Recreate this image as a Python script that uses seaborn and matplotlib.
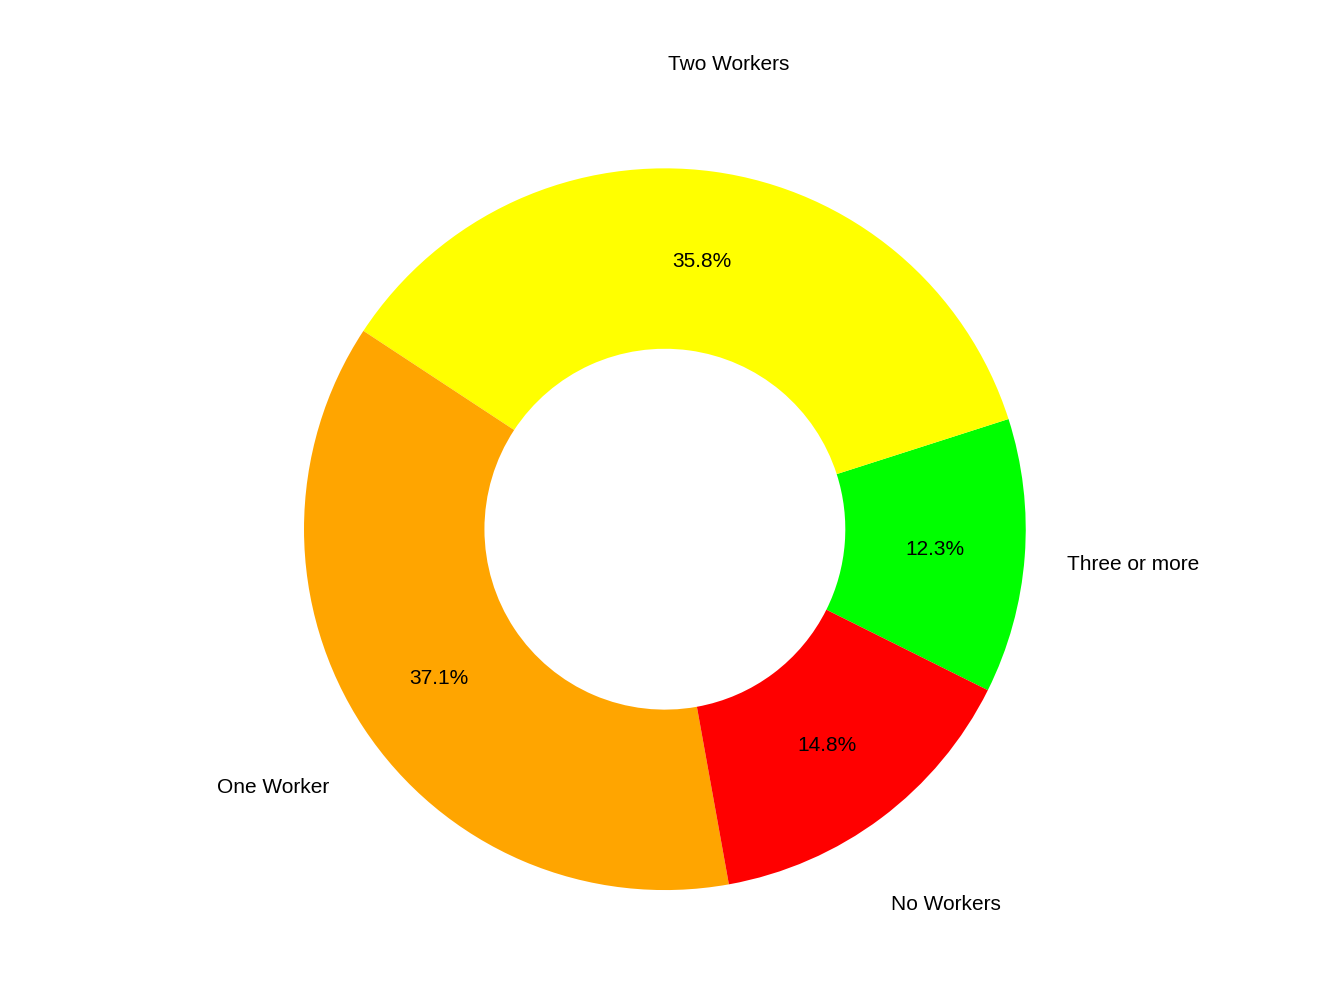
import matplotlib
matplotlib.use("Agg")
import matplotlib.pyplot as plt
import seaborn as sns

# Data
categories = ["Three or more", "Two Workers", "One Worker", "No Workers"]
shares = [12.3, 35.8, 37.1, 14.8]
colors = ["#00FF00", "#FFFF00", "#FFA500", "#FF0000"]

sns.set_style("white")
plt.rcParams['font.family'] = ['Liberation Sans', 'DejaVu Sans']

fig = plt.figure(figsize=(13.44, 10.08), dpi=100)
ax = fig.add_axes([0.2262, 0.117, 0.537, 0.716])

wedges, texts, autotexts = ax.pie(
    shares, labels=categories, colors=colors, startangle=-26.5,
    counterclock=True, autopct="%.1f%%", pctdistance=0.75,
    labeldistance=1.3, wedgeprops=dict(width=0.5, linewidth=0),
    textprops=dict(fontsize=15, color="black"),
)
for t in texts:
    t.set_horizontalalignment("center")
    t.set_verticalalignment("center")

ax.set_xlim(-1, 1)
ax.set_ylim(-1, 1)
ax.set_aspect("equal")
ax.axis("off")

fig.savefig("out.png", dpi=100)
